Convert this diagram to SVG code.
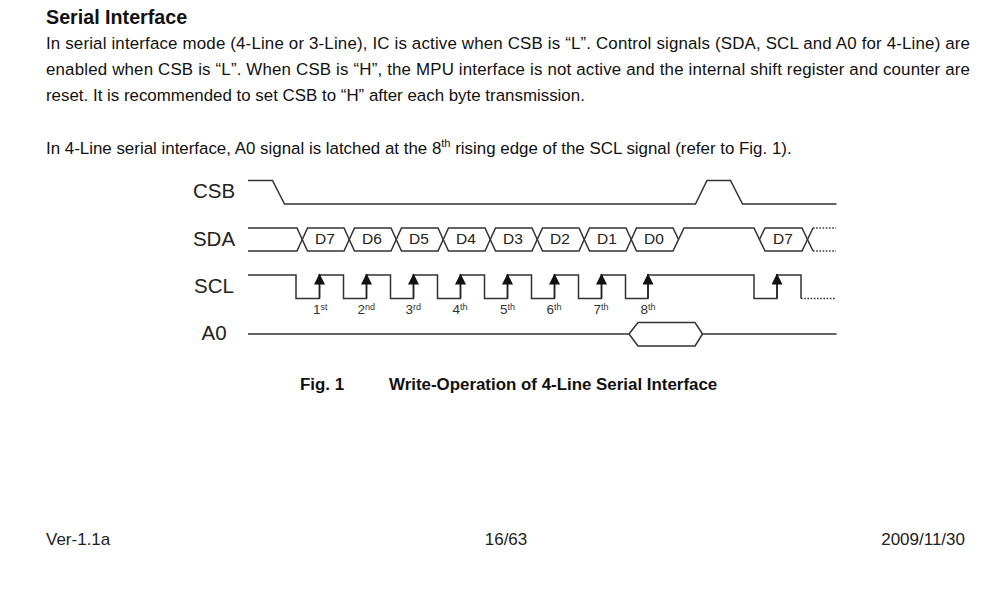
<svg xmlns="http://www.w3.org/2000/svg" width="1008" height="591" viewBox="0 0 1008 591">
<style>
text{font-family:"Liberation Sans",Arial,sans-serif;fill:#111}
.b{font-size:16.9px}
.h{font-size:19.7px;font-weight:bold}
.s{font-size:20.5px;text-anchor:middle;fill:#222}
.d{font-size:15.500px;text-anchor:middle;fill:#222}
.o{font-size:13.500px;fill:#333}
.u{font-size:9px;fill:#333}
.c{font-size:16.9px;font-weight:bold}
.f{font-size:17px;fill:#222}
.w{fill:none;stroke:#333;stroke-width:1.5}
.dot{fill:none;stroke:#333;stroke-width:1.4;stroke-dasharray:1.6 1.6}
.a{fill:none;stroke:#222;stroke-width:1.5;marker-end:url(#ah)}
</style>
<defs><marker id="ah" markerUnits="userSpaceOnUse" markerWidth="12" markerHeight="12" refX="10.5" refY="5.5" orient="auto"><path d="M0 0L11 5.500L0 11z" fill="#111"/></marker></defs>
<rect width="1008" height="591" fill="#fff"/>
<g id="page-text">
<text class="h" x="46" y="23.500">Serial Interface</text>
<text class="b" x="46" y="49" textLength="924">In serial interface mode (4-Line or 3-Line), IC is active when CSB is “L”. Control signals (SDA, SCL and A0 for 4-Line) are</text>
<text class="b" x="46" y="75" textLength="924">enabled when CSB is “L”. When CSB is “H”, the MPU interface is not active and the internal shift register and counter are</text>
<text class="b" x="46" y="101">reset. It is recommended to set CSB to “H” after each byte transmission.</text>
<text class="b" x="46" y="154">In 4-Line serial interface, A0 signal is latched at the 8<tspan font-size="11" dy="-7">th</tspan><tspan dy="7"> rising edge of the SCL signal (refer to Fig. 1).</tspan></text>
<text class="c" x="300" y="390">Fig. 1</text>
<text class="c" x="389" y="390">Write-Operation of 4-Line Serial Interface</text>
<text class="f" x="46" y="545">Ver-1.1a</text>
<text class="f" x="506" y="545" text-anchor="middle">16/63</text>
<text class="f" x="965" y="545" text-anchor="end">2009/11/30</text>
</g>
<g id="sig-csb"><text class="s" x="214" y="198">CSB</text></g>
<g id="sig-sda"><text class="s" x="214" y="246">SDA</text>
<text class="d" x="325" y="244">D7</text><text class="d" x="372" y="244">D6</text><text class="d" x="419" y="244">D5</text><text class="d" x="466" y="244">D4</text><text class="d" x="513" y="244">D3</text><text class="d" x="560" y="244">D2</text><text class="d" x="607" y="244">D1</text><text class="d" x="654" y="244">D0</text><text class="d" x="783" y="244">D7</text></g>
<g id="sig-scl"><text class="s" x="214" y="293">SCL</text>
<text class="o" x="313" y="314">1<tspan class="u" dy="-4">st</tspan></text>
<text class="o" x="357.500" y="314">2<tspan class="u" dy="-4">nd</tspan></text>
<text class="o" x="405.500" y="314">3<tspan class="u" dy="-4">rd</tspan></text>
<text class="o" x="452.500" y="314">4<tspan class="u" dy="-4">th</tspan></text>
<text class="o" x="500" y="314">5<tspan class="u" dy="-4">th</tspan></text>
<text class="o" x="546.500" y="314">6<tspan class="u" dy="-4">th</tspan></text>
<text class="o" x="593.500" y="314">7<tspan class="u" dy="-4">th</tspan></text>
<text class="o" x="640.500" y="314">8<tspan class="u" dy="-4">th</tspan></text></g>
<g id="sig-a0"><text class="s" x="214" y="340">A0</text></g>
<g id="connectors">
<path class="w" d="M248 180.500H272.500L284.500 204H695.500L707 180.500H730.500L742.500 204H836.500"/>
<path class="w" d="M248 228H297L307.500 251H344L354.500 228H391L401.500 251H438L448.500 228H485L495.500 251H532L542.500 228H579L589.500 251H626L636.500 228H673L678.500 239.500"/>
<path class="w" d="M248 251H297L307.500 228H344L354.500 251H391L401.500 228H438L448.500 251H485L495.500 228H532L542.500 251H579L589.500 228H626L636.500 251H673L684 228H754L765 251H802L813 228"/>
<path class="w" d="M759.500 239.500L765 228H802L813 251"/>
<path class="dot" d="M813 228H836M813 251H836"/>
<path class="w" d="M248 275H296V298.500H319.500V275H343.500V298.500H366.500V275H390.500V298.500H413.500V275H437.500V298.500H460.500V275H484.500V298.500H507.500V275H531.500V298.500H554.500V275H578.500V298.500H601.500V275H625.500V298.500H648V275H754V298.500H777V275H801V298.500"/>
<path class="dot" d="M801 298.500H835"/>
<path class="w" d="M248 334H629L638 322.500H695L702.500 334H836.500M629 334L638 346H695L702.500 334"/>
<path class="a" d="M319.500 298V274"/><path class="a" d="M366.500 298V274"/><path class="a" d="M413.500 298V274"/><path class="a" d="M460.500 298V274"/><path class="a" d="M507.500 298V274"/><path class="a" d="M554.500 298V274"/><path class="a" d="M601.500 298V274"/><path class="a" d="M648 298V274"/><path class="a" d="M777 298V274"/>
</g>
</svg>
